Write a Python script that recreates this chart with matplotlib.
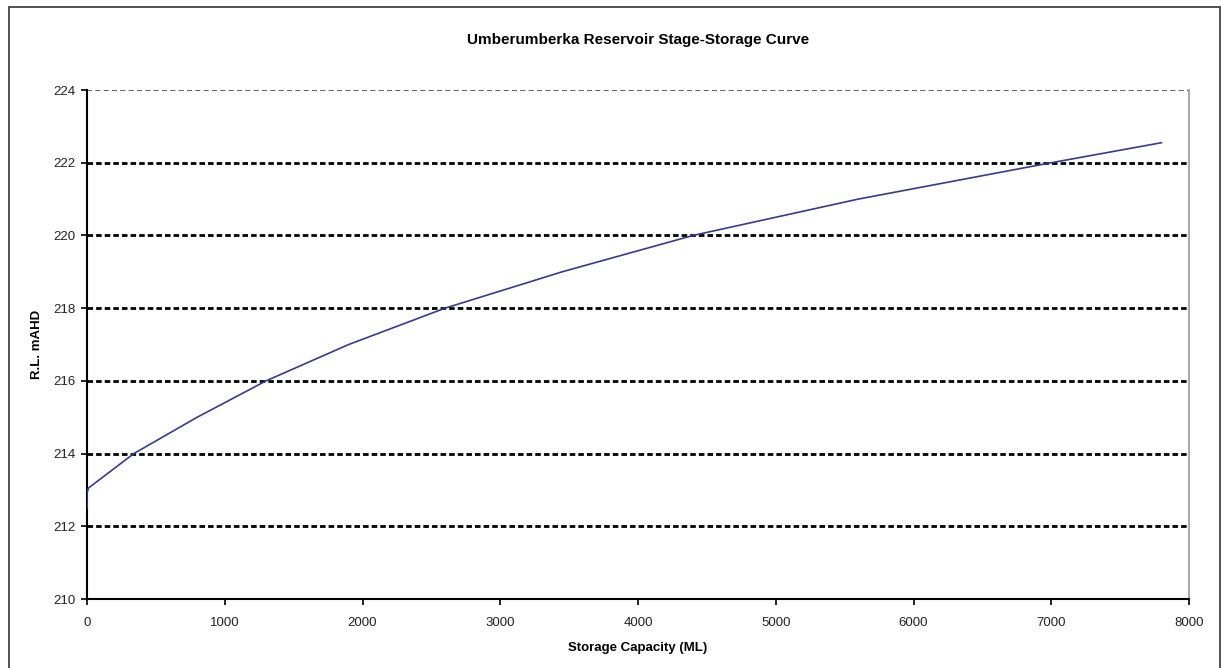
import matplotlib.pyplot as plt
from matplotlib.patches import Rectangle

# stage-storage table
storage_ml = [0, 0, 10, 340, 800, 1300, 1900, 2600, 3450, 4400, 5600, 7000, 7800]
rl_mahd = [212.5, 212.9, 213.05, 214.0, 215.0, 216.0, 217.0, 218.0, 219.0, 220.0, 221.0, 222.0, 222.55]

x_ticks = [0, 1000, 2000, 3000, 4000, 5000, 6000, 7000, 8000]
y_ticks = [210, 212, 214, 216, 218, 220, 222, 224]

plt.rcParams['font.family'] = ['Liberation Sans', 'DejaVu Sans']

fig = plt.figure(figsize=(12.21, 6.68), dpi=100)
ax = fig.add_axes([87 / 1221, 1 - 599 / 668, 1102 / 1221, 509 / 668])

# outer chart frame
fig.patches.append(Rectangle((9 / 1221, -0.05), 1211 / 1221, 1.05 - 7 / 668,
                             transform=fig.transFigure, fill=False,
                             edgecolor='#333333', linewidth=1.2))

for y in y_ticks[1:-1]:
    ax.axhline(y, color='black', linestyle=(0, (2.0, 1.1)), linewidth=2.0, zorder=1)
ax.axhline(y_ticks[-1], color='#444444', linestyle=(0, (3, 2)), linewidth=1.2, zorder=1)

ax.plot(storage_ml, rl_mahd, color='#3a3a8c', linewidth=1.2, zorder=3)

ax.set_xlim(0, 8000)
ax.set_ylim(210, 224)
ax.set_xticks(x_ticks)
ax.set_yticks(y_ticks)
ax.tick_params(labelsize=9.5, length=4, width=1.2, color='black', direction='out',
               labelcolor='#222222')
ax.tick_params(axis='x', pad=9)
ax.tick_params(axis='y', pad=4)

ax.spines['left'].set_linewidth(1.5)
ax.spines['bottom'].set_linewidth(1.5)
ax.spines['top'].set_visible(False)
ax.spines['right'].set_color('#999999')
ax.spines['right'].set_linewidth(1.2)

ax.set_xlabel('Storage Capacity (ML)', fontsize=9.5, fontweight='bold', labelpad=9)
ax.set_ylabel('R.L. mAHD', fontsize=9.5, fontweight='bold', labelpad=8)
ax.set_title('Umberumberka Reservoir Stage-Storage Curve', fontsize=11,
             fontweight='bold', pad=33)

fig.savefig('out.png', dpi=100)
